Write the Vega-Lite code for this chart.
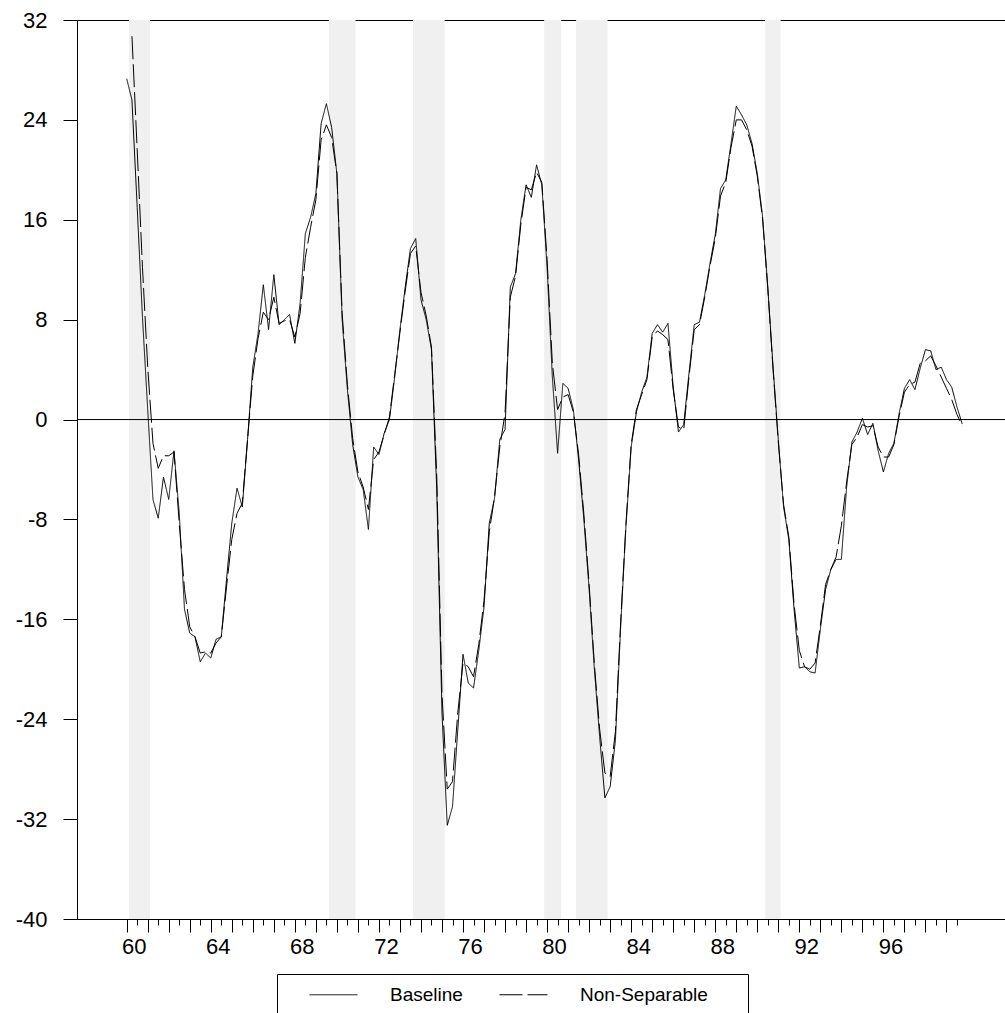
{
"$schema": "https://vega.github.io/schema/vega-lite/v6.json",
"width": 929, "height": 899,
"autosize": "none",
"padding": {"left": 77, "top": 20, "right": 0, "bottom": 94},
"background": "white",
"config": {
  "view": {"stroke": "black", "strokeWidth": 1},
  "font": "Liberation Sans",
  "axis": {"grid": false, "domainColor": "black", "tickColor": "black", "labelColor": "black", "labelFont": "Liberation Sans", "title": null, "tickWidth": 1, "domainWidth": 1}
},
"resolve": {"axis": {"x": "independent"}},
"datasets": {
  "rec": [
    {"start": 1960.11, "end": 1961.11},
    {"start": 1969.62, "end": 1970.89},
    {"start": 1973.62, "end": 1975.13},
    {"start": 1979.86, "end": 1980.67},
    {"start": 1981.38, "end": 1982.88},
    {"start": 1990.37, "end": 1991.11}
  ],
  "series": [
    {"t":1960,"b":27.3,"n":null},{"t":1960.25,"b":25.6,"n":30.7},{"t":1960.5,"b":17.0,"n":21.6},{"t":1960.75,"b":8.2,"n":12.2},
    {"t":1961,"b":0.8,"n":4.2},{"t":1961.25,"b":-6.4,"n":-1.9},{"t":1961.5,"b":-7.9,"n":-3.9},{"t":1961.75,"b":-4.6,"n":-2.9},
    {"t":1962,"b":-6.4,"n":-2.9},{"t":1962.25,"b":-2.5,"n":-2.6},{"t":1962.5,"b":-7.5,"n":-8.3},{"t":1962.75,"b":-15.2,"n":-13.6},
    {"t":1963,"b":-17.1,"n":-16.6},{"t":1963.25,"b":-17.4,"n":-17.4},{"t":1963.5,"b":-19.4,"n":-18.7},{"t":1963.75,"b":-18.7,"n":-18.6},
    {"t":1964,"b":-19.1,"n":-18.7},{"t":1964.25,"b":-17.6,"n":-17.9},{"t":1964.5,"b":-17.4,"n":-17.4},{"t":1964.75,"b":-12.8,"n":-13.4},
    {"t":1965,"b":-8.3,"n":-9.6},{"t":1965.25,"b":-5.5,"n":-7.5},{"t":1965.5,"b":-7.0,"n":-6.7},{"t":1965.75,"b":-1.6,"n":-1.6},
    {"t":1966,"b":4.2,"n":3.5},{"t":1966.25,"b":6.9,"n":6.5},{"t":1966.5,"b":10.8,"n":8.6},{"t":1966.75,"b":7.2,"n":8.0},
    {"t":1967,"b":11.6,"n":9.8},{"t":1967.25,"b":7.6,"n":7.7},{"t":1967.5,"b":8.0,"n":7.9},{"t":1967.75,"b":8.4,"n":8.0},
    {"t":1968,"b":6.1,"n":6.6},{"t":1968.25,"b":9.3,"n":8.5},{"t":1968.5,"b":14.9,"n":13.0},{"t":1968.75,"b":16.2,"n":15.4},
    {"t":1969,"b":18.1,"n":17.6},{"t":1969.25,"b":23.7,"n":22.4},{"t":1969.5,"b":25.3,"n":23.6},{"t":1969.75,"b":23.4,"n":22.6},
    {"t":1970,"b":19.7,"n":19.7},{"t":1970.25,"b":8.0,"n":8.5},{"t":1970.5,"b":2.4,"n":2.8},{"t":1970.75,"b":-2.0,"n":-1.5},
    {"t":1971,"b":-4.6,"n":-4.2},{"t":1971.25,"b":-5.6,"n":-5.4},{"t":1971.5,"b":-8.8,"n":-7.2},{"t":1971.75,"b":-2.2,"n":-3.2},
    {"t":1972,"b":-2.8,"n":-2.6},{"t":1972.25,"b":-1.1,"n":-1.2},{"t":1972.5,"b":0.0,"n":0.2},{"t":1972.75,"b":3.4,"n":3.6},
    {"t":1973,"b":7.2,"n":7.0},{"t":1973.25,"b":10.6,"n":10.3},{"t":1973.5,"b":13.7,"n":13.3},{"t":1973.75,"b":14.5,"n":13.9},
    {"t":1974,"b":9.6,"n":10.2},{"t":1974.25,"b":8.0,"n":8.3},{"t":1974.5,"b":5.6,"n":5.8},{"t":1974.75,"b":-5.6,"n":-4.5},
    {"t":1975,"b":-23.5,"n":-22.0},{"t":1975.25,"b":-32.5,"n":-29.6},{"t":1975.5,"b":-31.0,"n":-29.0},{"t":1975.75,"b":-24.9,"n":-23.5},
    {"t":1976,"b":-18.8,"n":-19.5},{"t":1976.25,"b":-21.1,"n":-19.8},{"t":1976.5,"b":-21.5,"n":-20.6},{"t":1976.75,"b":-18.5,"n":-18.0},
    {"t":1977,"b":-15.0,"n":-14.5},{"t":1977.25,"b":-8.3,"n":-9.0},{"t":1977.5,"b":-6.3,"n":-6.2},{"t":1977.75,"b":-1.6,"n":-2.2},
    {"t":1978,"b":-0.8,"n":0.5},{"t":1978.25,"b":10.6,"n":9.8},{"t":1978.5,"b":11.7,"n":11.5},{"t":1978.75,"b":16.0,"n":15.6},
    {"t":1979,"b":18.8,"n":18.6},{"t":1979.25,"b":17.8,"n":18.4},{"t":1979.5,"b":20.4,"n":19.8},{"t":1979.75,"b":18.8,"n":19.0},
    {"t":1980,"b":12.2,"n":12.8},{"t":1980.25,"b":3.4,"n":4.5},{"t":1980.5,"b":-2.7,"n":0.8},{"t":1980.75,"b":2.9,"n":1.8},
    {"t":1981,"b":2.5,"n":2.0},{"t":1981.25,"b":0.8,"n":0.6},{"t":1981.5,"b":-3.2,"n":-2.8},{"t":1981.75,"b":-8.0,"n":-7.6},
    {"t":1982,"b":-13.6,"n":-13.2},{"t":1982.25,"b":-20.0,"n":-19.6},{"t":1982.5,"b":-25.4,"n":-24.8},{"t":1982.75,"b":-30.3,"n":-28.3},
    {"t":1983,"b":-29.4,"n":-28.6},{"t":1983.25,"b":-25.7,"n":-25.0},{"t":1983.5,"b":-16.6,"n":-16.2},{"t":1983.75,"b":-8.6,"n":-8.4},
    {"t":1984,"b":-2.2,"n":-2.0},{"t":1984.25,"b":0.6,"n":0.8},{"t":1984.5,"b":2.2,"n":2.0},{"t":1984.75,"b":3.4,"n":3.2},
    {"t":1985,"b":6.9,"n":6.6},{"t":1985.25,"b":7.6,"n":7.1},{"t":1985.5,"b":7.0,"n":6.8},{"t":1985.75,"b":7.7,"n":6.4},
    {"t":1986,"b":2.6,"n":2.4},{"t":1986.25,"b":-1.0,"n":-0.6},{"t":1986.5,"b":-0.4,"n":-0.8},{"t":1986.75,"b":3.7,"n":3.4},
    {"t":1987,"b":7.6,"n":7.2},{"t":1987.25,"b":7.8,"n":7.6},{"t":1987.5,"b":10.0,"n":9.8},{"t":1987.75,"b":12.5,"n":12.3},
    {"t":1988,"b":14.8,"n":14.5},{"t":1988.25,"b":18.5,"n":17.9},{"t":1988.5,"b":19.2,"n":19.0},{"t":1988.75,"b":22.1,"n":21.8},
    {"t":1989,"b":25.1,"n":24.0},{"t":1989.25,"b":24.4,"n":24.0},{"t":1989.5,"b":23.6,"n":23.2},{"t":1989.75,"b":22.1,"n":21.9},
    {"t":1990,"b":19.7,"n":19.5},{"t":1990.25,"b":16.3,"n":16.1},{"t":1990.5,"b":10.6,"n":10.5},{"t":1990.75,"b":4.2,"n":4.0},
    {"t":1991,"b":-1.6,"n":-1.8},{"t":1991.25,"b":-7.0,"n":-6.8},{"t":1991.5,"b":-9.6,"n":-9.4},{"t":1991.75,"b":-15.2,"n":-14.8},
    {"t":1992,"b":-19.9,"n":-18.5},{"t":1992.25,"b":-19.8,"n":-19.8},{"t":1992.5,"b":-20.2,"n":-20.0},{"t":1992.75,"b":-20.3,"n":-19.5},
    {"t":1993,"b":-16.8,"n":-16.5},{"t":1993.25,"b":-13.6,"n":-13.2},{"t":1993.5,"b":-12.0,"n":-12.0},{"t":1993.75,"b":-11.2,"n":-11.0},
    {"t":1994,"b":-11.2,"n":-8.5},{"t":1994.25,"b":-5.4,"n":-5.0},{"t":1994.5,"b":-1.8,"n":-2.0},{"t":1994.75,"b":-1.0,"n":-1.4},
    {"t":1995,"b":0.1,"n":-0.4},{"t":1995.25,"b":-1.2,"n":-0.6},{"t":1995.5,"b":-0.3,"n":-0.5},{"t":1995.75,"b":-2.5,"n":-2.2},
    {"t":1996,"b":-4.2,"n":-3.0},{"t":1996.25,"b":-2.7,"n":-3.0},{"t":1996.5,"b":-1.9,"n":-2.0},{"t":1996.75,"b":0.5,"n":0.3},
    {"t":1997,"b":2.5,"n":2.2},{"t":1997.25,"b":3.2,"n":2.8},{"t":1997.5,"b":2.4,"n":3.0},{"t":1997.75,"b":4.1,"n":4.5},
    {"t":1998,"b":5.6,"n":4.7},{"t":1998.25,"b":5.5,"n":5.1},{"t":1998.5,"b":4.0,"n":4.3},{"t":1998.75,"b":4.2,"n":3.4},
    {"t":1999,"b":3.2,"n":2.5},{"t":1999.25,"b":2.6,"n":1.6},{"t":1999.5,"b":1.0,"n":0.4},{"t":1999.75,"b":-0.35,"n":-0.5}
  ]
},
"layer": [
  {
    "data": {"name": "rec"},
    "mark": {"type": "rect", "color": "#f0f0f0"},
    "encoding": {
      "x": {"field": "start", "type": "quantitative", "scale": {"domain": [1957.636, 2001.832], "nice": false, "zero": false},
        "axis": {"orient": "bottom", "offset": 0, "values": [1960.5,1961.5,1962.5,1963.5,1964.5,1965.5,1966.5,1967.5,1968.5,1969.5,1970.5,1971.5,1972.5,1973.5,1974.5,1975.5,1976.5,1977.5,1978.5,1979.5,1980.5,1981.5,1982.5,1983.5,1984.5,1985.5,1986.5,1987.5,1988.5,1989.5,1990.5,1991.5,1992.5,1993.5,1994.5,1995.5,1996.5,1997.5,1998.5,1999.5], "tickSize": 6, "labels": false, "domain": true}},
      "x2": {"field": "end"}
    }
  },
  {
    "data": {"values": [{}]},
    "mark": {"type": "rule", "color": "black", "strokeWidth": 1},
    "encoding": {
      "y": {"datum": 0, "type": "quantitative", "scale": {"domain": [-40, 32], "nice": false, "zero": false}}
    }
  },
  {
    "data": {"name": "series"},
    "transform": [{"fold": ["b", "n"], "as": ["key", "v"]}],
    "mark": {"type": "line", "color": "black", "strokeWidth": 1, "clip": true},
    "encoding": {
      "x": {
        "field": "t", "type": "quantitative",
        "scale": {"domain": [1957.636, 2001.832], "nice": false, "zero": false},
        "axis": {
          "orient": "bottom", "offset": 0,
          "values": [1960,1961,1962,1963,1964,1965,1966,1967,1968,1969,1970,1971,1972,1973,1974,1975,1976,1977,1978,1979,1980,1981,1982,1983,1984,1985,1986,1987,1988,1989,1990,1991,1992,1993,1994,1995,1996,1997,1998,1999],
          "tickSize": 13,
          "labelExpr": "datum.value % 4 === 0 ? format(datum.value % 100, '02d') : ''",
          "labelFontSize": 22,
          "labelPadding": 4,
          "labelOffset": 7,
          "labelFlush": false,
          "labelOverlap": false,
          "labelBound": false
        }
      },
      "y": {
        "field": "v", "type": "quantitative",
        "scale": {"domain": [-40, 32], "nice": false, "zero": false},
        "axis": {
          "values": [-40, -32, -24, -16, -8, 0, 8, 16, 24, 32],
          "labelExpr": "'' + datum.value",
          "tickSize": 14,
          "labelFontSize": 22,
          "labelPadding": 16,
          "labelOverlap": false,
          "labelFlush": false
        }
      },
      "strokeDash": {
        "field": "key", "type": "nominal",
        "scale": {"domain": ["b", "n"], "range": [[1, 0], [23, 5]]},
        "legend": {
          "orient": "none", "legendX": 200, "legendY": 954,
          "direction": "horizontal",
          "title": " ", "titleOrient": "right", "titlePadding": 32, "titleFontSize": 4,
          "symbolType": "M-2,0H2", "symbolSize": 576, "symbolStrokeWidth": 1, "symbolStrokeColor": "black",
          "labelFontSize": 19, "labelFont": "Liberation Sans", "labelColor": "black",
          "labelOffset": 44, "columnPadding": 12, "padding": 8, "symbolOffset": 36,
          "strokeColor": "black", "fillColor": "white",
          "labelExpr": "datum.label == 'b' ? 'Baseline' : 'Non-Separable'"
        }
      }
    }
  }
]
}
